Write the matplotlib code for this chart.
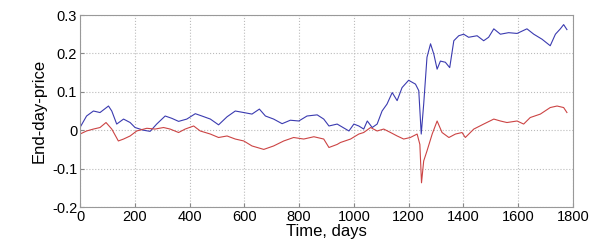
import matplotlib.pyplot as plt

# Days and values
blue_days = [0, 24, 49, 73, 104, 116, 134, 159, 183, 201, 232, 256, 280, 311, 335,
             360, 390, 421, 445, 476, 506, 537, 567, 598, 628, 655, 677, 707, 738,
             768, 799, 829, 866, 890, 909, 939, 951, 982, 1000, 1018, 1036, 1049,
             1067, 1085, 1103, 1121, 1140, 1158, 1176, 1200, 1225, 1237, 1246, 1255,
             1267, 1280, 1292, 1304, 1316, 1334, 1350, 1365, 1383, 1401, 1419, 1450,
             1474, 1492, 1511, 1535, 1565, 1596, 1632, 1657, 1687, 1717, 1736, 1754,
             1766, 1778]
blue_vals = [0.007, 0.037, 0.050, 0.046, 0.063, 0.050, 0.016, 0.029, 0.020, 0.007,
             0.000, -0.003, 0.016, 0.037, 0.031, 0.023, 0.029, 0.043, 0.037, 0.029,
             0.014, 0.035, 0.050, 0.046, 0.042, 0.055, 0.037, 0.029, 0.017, 0.026,
             0.024, 0.037, 0.040, 0.029, 0.011, 0.016, 0.011, -0.002, 0.016, 0.011,
             0.003, 0.024, 0.007, 0.016, 0.050, 0.068, 0.098, 0.077, 0.111, 0.130,
             0.120, 0.103, -0.010, 0.068, 0.190, 0.225, 0.198, 0.159, 0.180, 0.177,
             0.163, 0.233, 0.246, 0.250, 0.242, 0.246, 0.233, 0.242, 0.264, 0.250,
             0.254, 0.252, 0.264, 0.250, 0.237, 0.220, 0.250, 0.264, 0.275, 0.262]

red_days = [0, 24, 49, 73, 95, 116, 140, 159, 183, 207, 244, 274, 305, 329, 360,
            384, 415, 439, 476, 506, 537, 567, 598, 628, 671, 707, 744, 780, 817,
            854, 890, 909, 939, 951, 988, 1018, 1036, 1061, 1085, 1109, 1134, 1158,
            1182, 1206, 1231, 1241, 1247, 1255, 1267, 1286, 1304, 1322, 1347, 1371,
            1395, 1407, 1438, 1474, 1511, 1535, 1559, 1596, 1620, 1644, 1681, 1717,
            1742, 1766, 1778]
red_vals = [-0.010, -0.002, 0.003, 0.007, 0.020, 0.003, -0.028, -0.023, -0.015,
            -0.002, 0.005, 0.003, 0.007, 0.003, -0.006, 0.003, 0.011, -0.002, -0.010,
            -0.019, -0.015, -0.023, -0.028, -0.041, -0.050, -0.041, -0.028, -0.019,
            -0.023, -0.017, -0.023, -0.045, -0.037, -0.032, -0.023, -0.010, -0.006,
            0.007, -0.002, 0.003, -0.006, -0.015, -0.023, -0.019, -0.010, -0.037,
            -0.137, -0.080, -0.054, -0.010, 0.024, -0.006, -0.019, -0.010, -0.006,
            -0.019, 0.003, 0.016, 0.029, 0.024, 0.020, 0.024, 0.016, 0.033, 0.042,
            0.059, 0.063, 0.059, 0.046]

plt.rcParams['font.family'] = ['Liberation Sans', 'DejaVu Sans']

fig = plt.figure(figsize=(5.9, 2.44), dpi=100)
ax = fig.add_axes([0.1356, 0.1516, 0.8355, 0.7869])

ax.plot(blue_days, blue_vals, color='#3b3bb0', linewidth=0.8)
ax.plot(red_days, red_vals, color='#cc4444', linewidth=0.8)

ax.set_xlim(0, 1800)
ax.set_ylim(-0.2, 0.3)
ax.set_xticks(range(0, 1801, 200))
ax.set_yticks([-0.2, -0.1, 0, 0.1, 0.2, 0.3])
ax.set_yticklabels(['-0.2', '-0.1', '0', '0.1', '0.2', '0.3'])
ax.tick_params(direction='in', labelsize=10.5, length=3, color='#888888', pad=2)
ax.grid(True, linestyle=':', color='#bbbbbb', linewidth=0.8)

for s in ax.spines.values():
    s.set_color('#999999')

ax.set_xlabel('Time, days', fontsize=12, labelpad=0)
ax.set_ylabel('End-day-price', fontsize=12, labelpad=4)

fig.savefig('out.png', dpi=100)
